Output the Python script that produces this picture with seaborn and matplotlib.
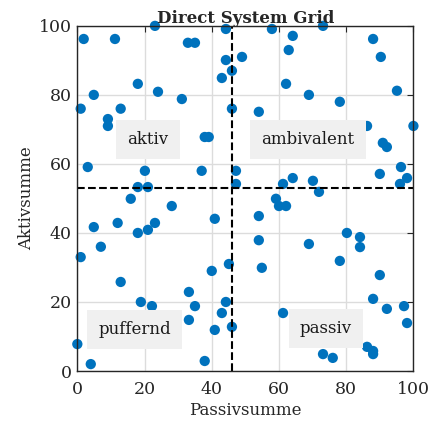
import matplotlib
matplotlib.use("Agg")
import matplotlib.pyplot as plt
import numpy as np
import pandas as pd
import seaborn as sns

# values
passiv = [1.9, 11.2, 23.1, 32.9, 35.0, 44.2, 49.0, 44.2, 46.0, 43.0,
          18.0, 24.0, 4.9, 31.1, 1.0, 12.9, 46.0, 9.1, 9.1, 37.9,
          39.1, 3.1, 20.1, 37.0, 47.2, 18.0, 21.0, 47.2,
          57.9, 64.1, 73.1, 88.0, 90.3, 62.9, 62.1, 68.9, 78.1, 54.0,
          95.1, 86.2, 100.0, 90.9, 92.1, 96.3, 90.0, 98.1, 96.0, 64.1,
          70.1, 61.2,
          71.9, 59.1, 60.0, 62.1, 54.0, 54.0, 68.9, 54.9, 80.2, 84.1,
          84.1, 78.1, 90.0, 88.0, 92.1, 97.2, 98.1, 61.2, 73.1, 76.0,
          86.2, 88.0, 88.0,
          15.9, 28.1, 4.9, 12.0, 18.0, 21.0, 23.1, 40.9, 1.0, 7.0,
          40.0, 45.1, 12.9, 18.9, 22.2, 33.2, 35.0, 44.2, 43.0, 33.2,
          46.0, 40.9, 0.0, 4.0, 37.9]
aktiv = [96.2, 96.2, 100.0, 95.1, 95.1, 99.1, 91.0, 90.1, 87.0, 84.9,
         83.2, 80.9, 80.0, 78.8, 76.0, 76.0, 76.0, 73.0, 71.0, 67.8,
         67.8, 59.1, 58.0, 58.0, 58.0, 53.3, 53.3, 54.2,
         99.1, 97.1, 100.0, 96.2, 91.0, 93.0, 83.2, 80.0, 78.0, 75.1,
         81.2, 71.0, 71.0, 66.1, 64.9, 59.1, 57.1, 55.9, 54.2, 55.9,
         55.1, 54.2,
         51.9, 49.9, 47.8, 47.8, 44.9, 37.9, 36.8, 29.9, 40.0, 38.8,
         35.9, 31.9, 27.8, 20.9, 18.0, 18.8, 13.9, 16.8, 4.9, 3.8,
         7.0, 5.8, 4.9,
         49.9, 47.8, 41.7, 42.9, 40.0, 40.9, 42.9, 44.1, 33.0, 36.0,
         29.0, 31.0, 25.8, 20.0, 18.8, 22.9, 18.8, 20.0, 16.8, 14.8,
         12.8, 11.9, 7.8, 2.0, 2.9]

x_split = 46
y_split = 53

quad_names = ["aktiv", "ambivalent", "puffernd", "passiv"]
quad_x = [21, 68.6, 17, 74]
quad_y = [67, 67, 12, 12.3]

df = pd.DataFrame({"Passivsumme": passiv, "Aktivsumme": aktiv})

sns.set_style("white")
plt.rcParams["font.family"] = ["DejaVu Serif"]

fig = plt.figure(figsize=(4.32, 4.24), dpi=100)
ax = fig.add_axes([0.179, 0.125, 0.778, 0.814])

ax.grid(True, color="#dcdcdc", linewidth=1)
ax.set_axisbelow(True)

sns.scatterplot(data=df, x="Passivsumme", y="Aktivsumme", ax=ax,
                color="#0072BD", s=55, edgecolor="none", clip_on=False,
                zorder=3)

ax.axvline(x_split, color="black", linestyle="--", linewidth=1.5, zorder=4)
ax.axhline(y_split, color="black", linestyle="--", linewidth=1.5, zorder=4)

for name, qx, qy in zip(quad_names, quad_x, quad_y):
    ax.text(qx, qy, name, ha="center", va="center", fontsize=12,
            color="#1a1a1a", zorder=5,
            bbox=dict(facecolor="#f0f0f0", edgecolor="none", pad=8))

ax.set_xlim(0, 100)
ax.set_ylim(0, 100)
ax.set_xticks(np.arange(0, 101, 20))
ax.set_yticks(np.arange(0, 101, 20))
ax.tick_params(direction="in", length=4, labelsize=12.5, top=True,
               right=True, color="#262626", labelcolor="#262626", pad=4)
ax.tick_params(axis="x", pad=7)
for sp in ax.spines.values():
    sp.set_color("#262626")
    sp.set_linewidth(1)
    sp.set_zorder(6)

ax.set_xlabel("Passivsumme", fontsize=12, color="#262626", labelpad=3)
ax.set_ylabel("Aktivsumme", fontsize=12, color="#262626", labelpad=3)
ax.set_title("Direct System Grid", fontsize=12, fontweight="bold", pad=2)

fig.savefig("out.png", dpi=100)
